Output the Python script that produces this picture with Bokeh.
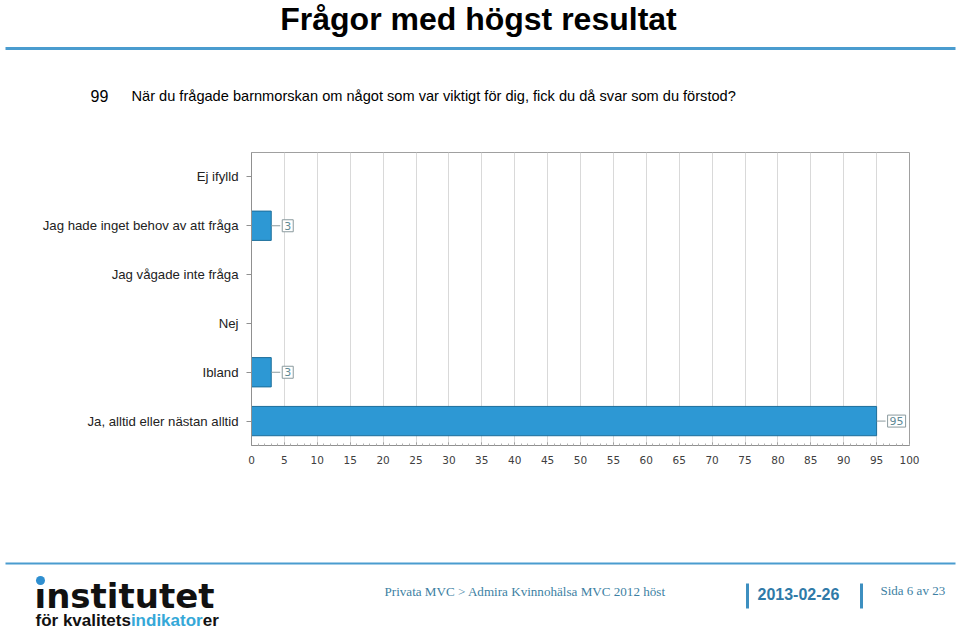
from bokeh.plotting import figure
from bokeh.layouts import column
from bokeh.models import Range1d, SingleIntervalTicker, FixedTicker, ColumnDataSource
from bokeh.core.properties import value
from bokeh.embed import file_html
from bokeh.resources import INLINE

# ---------------- data ----------------
title_text = "Frågor med högst resultat"
question_no = "99"
question_text = "När du frågade barnmorskan om något som var viktigt för dig, fick du då svar som du förstod?"
categories = [
    "Ej ifylld",
    "Jag hade inget behov av att fråga",
    "Jag vågade inte fråga",
    "Nej",
    "Ibland",
    "Ja, alltid eller nästan alltid",
]
percentages = [0, 3, 0, 0, 3, 95]
footer_path = "Privata MVC > Admira Kvinnohälsa MVC 2012 höst"
footer_date = "2013-02-26"
footer_page = "Sida 6 av 23"
logo_main = "ınstitutet"
logo_sub = ["för kvalitets", "indikator", "er"]

BLUE_LINE = "#4a9ccf"
SANS = value("Liberation Sans")
SERIF = value("Liberation Serif")
W = 960


def blank(y0, y1):
    p = figure(width=W, height=y1 - y0, x_range=Range1d(0, W), y_range=Range1d(y1, y0),
               output_backend="svg", toolbar_location=None,
               x_axis_location=None, y_axis_location=None, min_border=0)
    p.frame_align = False
    p.grid.visible = False
    p.outline_line_color = None
    p.background_fill_color = "white"
    p.border_fill_color = "white"
    return p


# ---------------- header (page pixels 0..140) ----------------
head = blank(0, 140)
head.text(x=[478], y=[18], text=[title_text], text_align="center", text_baseline="middle",
          text_font=SANS, text_font_style="bold", text_font_size="32px", text_color="black")
head.segment(x0=[5], y0=[48], x1=[955], y1=[48], line_color=BLUE_LINE, line_width=3)
head.text(x=[90], y=[95], text=[question_no], text_align="left", text_baseline="middle",
          text_font=SANS, text_font_size="16px", text_color="black")
head.text(x=[131], y=[95], text=[question_text], text_align="left", text_baseline="middle",
          text_font=SANS, text_font_size="14.6px", text_color="black")

# ---------------- chart (page pixels 140..480) ----------------
n = len(categories)
pos = list(range(n))  # category slots, first at top

chart = figure(width=W, height=340, y_range=Range1d(n - 0.5, -0.5),
               x_range=Range1d(0, 100), output_backend="svg", toolbar_location=None,
               min_border_left=251, min_border_right=51, min_border_top=12,
               min_border_bottom=35)
chart.frame_align = False
chart.background_fill_color = "white"
chart.border_fill_color = "white"
chart.outline_line_color = "#a0a0a0"

src = ColumnDataSource(dict(pos=pos, val=percentages))
chart.hbar(y="pos", right="val", left=0, height=0.6, source=src,
           fill_color="#2d98d4", line_color="#1d6e9a", line_width=1)

lab_pos = [i for i, v in zip(pos, percentages) if v > 0]
lab_vals = [v for v in percentages if v > 0]
lab_src = ColumnDataSource(dict(pos=lab_pos, val=lab_vals, txt=[str(v) for v in lab_vals]))
chart.ray(x="val", y="pos", length=9, length_units="screen", angle=0, source=lab_src,
          line_color="#8a9a9e", line_width=1)
chart.text(x="val", y="pos", text="txt", source=lab_src, x_offset=11,
           text_align="left", text_baseline="middle", text_font=value("DejaVu Sans"),
           text_font_size="11px", text_color="#5f8a96",
           padding=2, border_line_color="#8a9a9e", border_line_width=1,
           background_fill_color="white")

xa = chart.xaxis[0]
xa.ticker = SingleIntervalTicker(interval=5, num_minor_ticks=5)
xa.major_label_text_font = "DejaVu Sans"
xa.major_label_text_font_size = "10.5px"
xa.major_label_text_color = "#404040"
xa.axis_line_color = "#909090"
xa.major_tick_line_color = "#909090"
xa.minor_tick_line_color = "#b0b0b0"
xa.major_tick_in = 3
xa.major_tick_out = 0
xa.minor_tick_in = 2
xa.minor_tick_out = 0
xa.major_label_standoff = 10

ya = chart.yaxis[0]
ya.ticker = FixedTicker(ticks=pos)
ya.major_label_overrides = {i: c for i, c in zip(pos, categories)}
ya.major_label_text_font = "Liberation Sans"
ya.major_label_text_font_size = "13.2px"
ya.major_label_text_color = "#222222"
ya.axis_line_color = "#909090"
ya.major_tick_line_color = "#909090"
ya.minor_tick_line_color = None
ya.major_tick_in = 0
ya.major_tick_out = 5
ya.major_label_standoff = 8

chart.xgrid.grid_line_color = "#d9d9d9"
chart.ygrid.grid_line_color = None

# ---------------- footer (page pixels 480..635) ----------------
foot = blank(480, 635)
foot.segment(x0=[5], y0=[563], x1=[955], y1=[563], line_color=BLUE_LINE, line_width=2)
foot.text(x=[34], y=[595], text=[logo_main], text_align="left", text_baseline="middle",
          text_font=value("DejaVu Sans"), text_font_style="bold", text_font_size="34px",
          text_color="#111111")
foot.scatter(x=[40], y=[580], size=9, marker="circle", fill_color="#2f8fd0", line_color=None)
foot.text(x=[35, 130.4, 202.2], y=[620, 620, 620], text=logo_sub, text_align="left",
          text_baseline="middle", text_font=SANS, text_font_style="bold",
          text_font_size="17px", text_color=["#111111", "#35a8d8", "#111111"])
foot.text(x=[384], y=[591], text=[footer_path], text_align="left", text_baseline="middle",
          text_font=SERIF, text_font_size="13.1px", text_color="#3d7fa3")
foot.segment(x0=[747, 861], y0=[583, 583], x1=[747, 861], y1=[608, 608],
             line_color="#3d8fc0", line_width=3)
foot.text(x=[757], y=[593], text=[footer_date], text_align="left", text_baseline="middle",
          text_font=SANS, text_font_style="bold", text_font_size="16px", text_color="#2f7aa8")
foot.text(x=[880], y=[590], text=[footer_page], text_align="left", text_baseline="middle",
          text_font=SERIF, text_font_size="13px", text_color="#3d7fa3")

layout = column(head, chart, foot, spacing=0)
open("out.html", "w").write(file_html(layout, INLINE))
